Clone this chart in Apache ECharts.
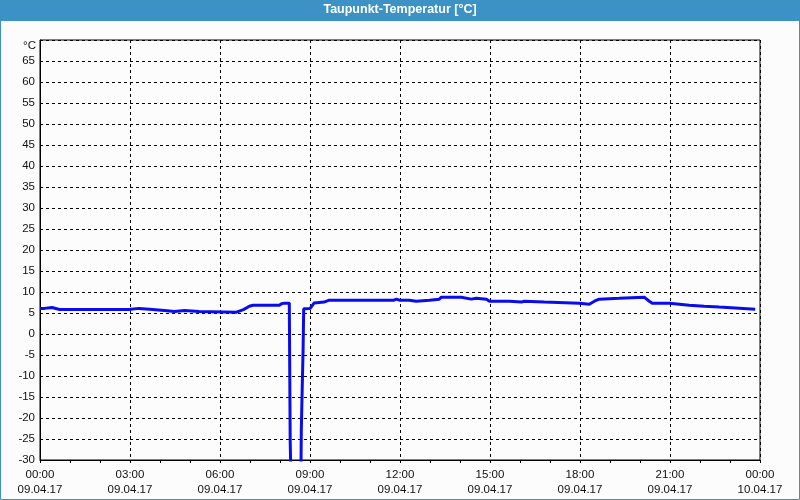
<!DOCTYPE html>
<html>
<head>
<meta charset="utf-8">
<script src="https://cdn.jsdelivr.net/npm/echarts@6/dist/echarts.min.js"></script>
<style>
html,body{margin:0;padding:0;background:#fbfcfb;}
#chart{width:800px;height:500px;}
</style>
</head>
<body>
<div id="chart"></div>
<script>
// Data (time in decimal hours of 09.04.17, dew point in °C)
var titleText = 'Taupunkt-Temperatur [°C]';
var unitLabel = '°C';
var hours = [0.0,0.15,0.2,0.4,0.45,0.65,2.95,2.98,3.3,3.35,3.65,3.68,4.15,4.18,4.48,4.5,4.82,4.85,5.3,5.35,6.55,6.78,6.98,7.1,7.98,8.05,8.15,8.31,8.34,8.38,8.69,8.71,8.74,8.77,8.79,9.0,9.14,9.47,9.5,9.64,11.8,11.88,11.98,12.31,12.34,12.54,12.58,12.98,13.0,13.31,13.38,14.04,14.08,14.38,14.41,14.54,14.58,14.88,14.98,15.64,15.68,16.05,16.08,16.14,16.18,16.81,16.84,17.98,18.01,18.31,18.48,18.64,18.68,19.31,19.34,20.14,20.31,20.41,20.98,21.01,21.31,21.34,21.64,21.68,22.14,22.18,22.64,22.68,23.31,23.34,23.84];
var dewPoint = [6.1,6.1,6.3,6.3,6.1,5.85,5.85,6.1,6.1,5.9,5.9,5.6,5.6,5.35,5.35,5.6,5.6,5.35,5.35,5.2,5.2,5.8,6.6,6.85,6.85,7.2,7.35,7.35,-25.6,-40,-40,-23,-13,-3.7,6.0,6.05,7.4,7.6,7.9,8.05,8.05,8.3,8.05,8.05,7.8,7.8,8.05,8.05,8.3,8.3,8.77,8.77,8.3,8.3,8.5,8.5,8.3,8.3,7.8,7.8,7.6,7.6,7.8,7.8,7.6,7.6,7.3,7.3,7.1,7.1,7.8,8.3,8.5,8.5,8.77,8.77,7.8,7.3,7.3,7.1,7.1,6.85,6.85,6.6,6.6,6.4,6.4,6.15,6.15,5.9,5.9];
var xTickTimes = ['00:00','03:00','06:00','09:00','12:00','15:00','18:00','21:00','00:00'];
var xTickDates = ['09.04.17','09.04.17','09.04.17','09.04.17','09.04.17','09.04.17','09.04.17','09.04.17','10.04.17'];

var seriesData = hours.map(function(h, i){ return [h, dewPoint[i]]; });
var font = 'Liberation Sans, Arial, sans-serif';

var chart = echarts.init(document.getElementById('chart'), null, {renderer:'canvas'});
chart.setOption({
  animation: false,
  backgroundColor: '#fbfcfb',
  graphic: [
    {type:'rect', z:-10, shape:{x:0,y:0,width:800,height:21}, style:{fill:'#3c92c5'}},
    {type:'rect', z:-10, shape:{x:0.5,y:0.5,width:799,height:499}, style:{fill:'none', stroke:'#3c92c5', lineWidth:1}}
  ],
  title: {
    text: titleText,
    left: 'center',
    top: 3,
    padding: [0,0,0,28],
    textStyle: {color:'#ffffff', fontFamily: font, fontWeight:'bold', fontSize:12.5, lineHeight:14}
  },
  grid: {left:40, right:40, top:40, bottom:40, show:true, borderColor:'#000', borderWidth:1, backgroundColor:'transparent'},
  xAxis: {
    type:'value', min:0, max:24, interval:3,
    axisLine:{show:true, onZero:false, lineStyle:{color:'#000', width:1}},
    axisTick:{show:true, length:3, inside:false, lineStyle:{color:'#000'}},
    minorTick:{show:true, splitNumber:3, length:3, lineStyle:{color:'#000'}},
    splitLine:{show:true, lineStyle:{color:'#000', type:[3,3], width:1}},
    axisLabel:{
      margin:7, color:'#111', fontFamily:font, fontSize:11.5, lineHeight:15,
      formatter:function(v){ var i = Math.round(v/3); return xTickTimes[i] + '\n' + xTickDates[i]; }
    }
  },
  yAxis: {
    type:'value', min:-30, max:70, interval:5,
    name: unitLabel, nameLocation:'end', nameGap:-5.5,
    nameTextStyle:{color:'#111', fontFamily:font, fontSize:11.5, align:'right', verticalAlign:'middle', padding:[0,4,0,0]},
    axisLine:{show:true, onZero:false, lineStyle:{color:'#000', width:1}},
    axisTick:{show:false},
    splitLine:{show:true, lineStyle:{color:'#000', type:[3,3], width:1}},
    axisLabel:{
      margin:5, color:'#111', fontFamily:font, fontSize:11.5,
      formatter:function(v){ return v === 70 ? '' : String(v); }
    }
  },
  series: [{
    type:'line', data: seriesData, showSymbol:false, symbol:'none', clip:true,
    lineStyle:{color:'#0b0bef', width:3}
  }]
});
</script>
</body>
</html>
